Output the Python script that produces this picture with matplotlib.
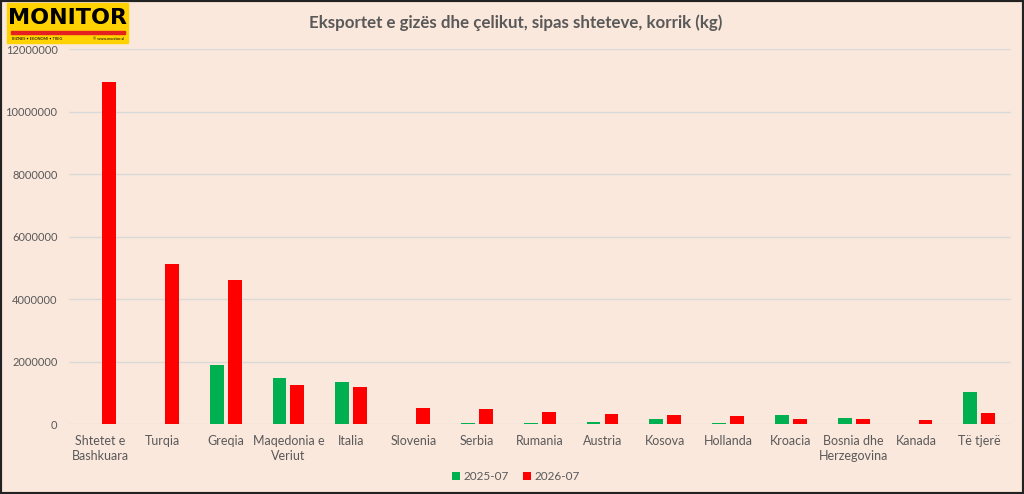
import matplotlib
matplotlib.use("Agg")
import matplotlib.pyplot as plt
import numpy as np

countries = ["Shtetet e\nBashkuara", "Turqia", "Greqia", "Maqedonia e\nVeriut", "Italia",
             "Slovenia", "Serbia", "Rumania", "Austria", "Kosova", "Hollanda",
             "Kroacia", "Bosnia dhe\nHerzegovina", "Kanada", "Të tjerë"]
y2025 = [0, 0, 1880000, 1480000, 1360000, 0, 40000, 20000, 70000, 160000, 20000,
         280000, 200000, 0, 1010000]
y2026 = [10950000, 5110000, 4620000, 1240000, 1200000, 520000, 490000, 370000,
         320000, 290000, 270000, 170000, 170000, 120000, 360000]
yticks = [0, 2000000, 4000000, 6000000, 8000000, 10000000, 12000000]

bg = "#FBE8DC"
txt = "#595959"
plt.rcParams['font.family'] = ['Lato', 'DejaVu Sans']

fig = plt.figure(figsize=(10.24, 4.94), dpi=100, facecolor=bg)
ax = fig.add_axes([0.067, 0.1417, 0.920, 0.7585])
ax.set_facecolor(bg)

x = np.arange(len(countries))
w = 0.22
ax.bar(x - 0.143, y2025, w, color="#00B050", label="2025-07", zorder=3)
ax.bar(x + 0.143, y2026, w, color="#FF0000", label="2026-07", zorder=3)

ax.set_xlim(-0.5, len(countries) - 0.5)
ax.set_ylim(0, 12000000)
ax.set_yticks(yticks)
ax.set_yticklabels([str(v) for v in yticks])
ax.set_xticks(x)
ax.set_xticklabels(countries, linespacing=1.3)
ax.tick_params(axis="both", length=0, colors=txt)
ax.tick_params(axis="y", pad=8, labelsize=8)
ax.tick_params(axis="x", pad=8, labelsize=9)
ax.grid(axis="y", color="#D9D9D9", linewidth=1, zorder=0)
for s in ax.spines.values():
    s.set_visible(False)

fig.text(0.504, 0.955, "Eksportet e gizës dhe çelikut, sipas shteteve, korrik (kg)",
         ha="center", va="center", fontsize=12.2, fontweight="bold", color=txt)

fig.legend(loc="center", bbox_to_anchor=(0.504, 0.035), ncol=2, frameon=False,
           fontsize=8.5, handlelength=0.7, handleheight=0.7, handletextpad=0.3,
           columnspacing=1.2, labelcolor=txt)

# logo
fig.patches.append(plt.Rectangle((7 / 1024, 1 - 43 / 494), 121 / 1024, 40 / 494,
                                 transform=fig.transFigure, color="#FFD200", zorder=5))
fig.patches.append(plt.Rectangle((11 / 1024, 1 - 34 / 494), 114 / 1024, 3 / 494,
                                 transform=fig.transFigure, color="#E62020", zorder=6))
fig.text(67 / 1024, 1 - 18 / 494, "MONITOR", ha="center", va="center", fontsize=16,
         fontweight="black", color="black", family="DejaVu Sans", zorder=7)
fig.text(12 / 1024, 1 - 38.5 / 494, "BIZNES • EKONOMI • TREG", ha="left", va="center",
         fontsize=2.8, color="black", zorder=7)
fig.text(124 / 1024, 1 - 38.5 / 494, "© www.monitor.al", ha="right", va="center",
         fontsize=2.8, color="black", zorder=7)

# border
fig.patches.append(plt.Rectangle((0, 0), 1, 1, transform=fig.transFigure, fill=False,
                                 edgecolor="#222222", linewidth=3, zorder=10))

fig.savefig("out.png", dpi=100, facecolor=bg)
